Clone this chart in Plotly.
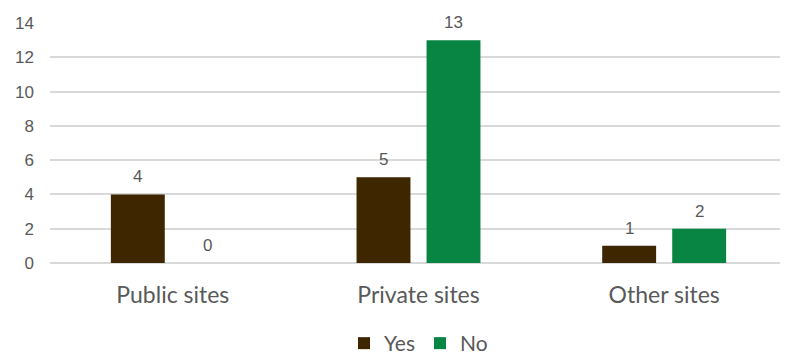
import plotly.graph_objects as go

categories = ["Public sites", "Private sites", "Other sites"]
yes_values = [4, 5, 1]
no_values = [0, 13, 2]
y_ticks = [0, 2, 4, 6, 8, 10, 12, 14]

YES_COLOR = "#3d2600"
NO_COLOR = "#088443"
TEXT_COLOR = "#595959"

fig = go.Figure()
fig.add_trace(go.Bar(name="Yes", x=categories, y=yes_values, marker_color=YES_COLOR,
                     marker_line_width=0))
fig.add_trace(go.Bar(name="No", x=categories, y=no_values, marker_color=NO_COLOR,
                     marker_line_width=0))

annotations = []
for series, shift in ((yes_values, -35), (no_values, 35)):
    for cat, v in zip(categories, series):
        annotations.append(dict(x=cat, y=v, xref="x", yref="y", text=str(v),
                                showarrow=False, yanchor="bottom", xshift=shift, yshift=6,
                                font=dict(family="Liberation Sans, Arial", size=17, color=TEXT_COLOR)))

# page body has an 8px default margin, so the figure is sized to fit the window
fig.update_layout(
    width=780, height=347,
    margin=dict(l=42, r=1, t=15, b=92, autoexpand=False),
    paper_bgcolor="white", plot_bgcolor="white",
    barmode="group", bargap=0.43, bargroupgap=0.23,
    showlegend=True,
    legend=dict(orientation="h", x=0.5, xanchor="center", y=-0.25, yanchor="top",
                font=dict(family="Lato", size=21, color=TEXT_COLOR),
                itemwidth=30, traceorder="normal"),
    annotations=annotations,
    xaxis=dict(showgrid=False, showline=False, ticks="", automargin=False,
               tickfont=dict(family="Lato", size=23, color=TEXT_COLOR),
               ticklabelstandoff=16),
    yaxis=dict(range=[0, 14], tickvals=y_ticks, showgrid=True, gridcolor="#d9d9d9",
               gridwidth=1.5, zeroline=True, zerolinecolor="#d9d9d9", zerolinewidth=1.5,
               automargin=False,
               tickfont=dict(family="Liberation Sans, Arial", size=17, color=TEXT_COLOR),
               ticklabelstandoff=15),
)

fig.write_html("out.html")
